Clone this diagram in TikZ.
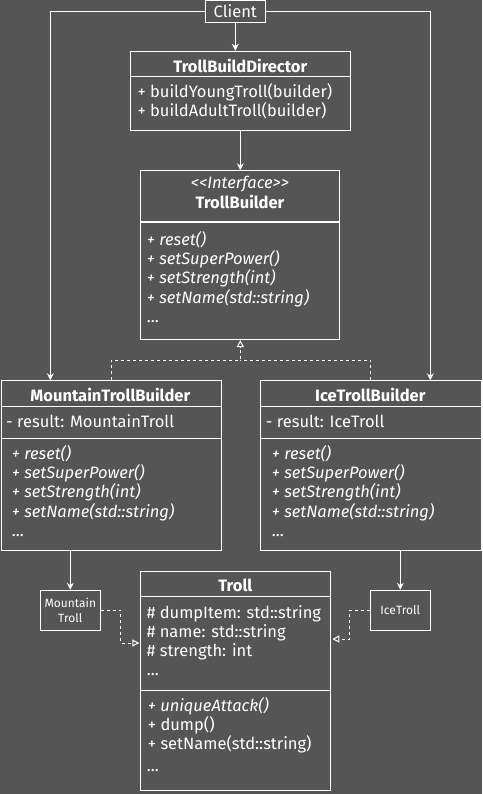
\documentclass[tikz,border=0pt]{standalone}
\usepackage{fontspec}
\setmainfont{Fira Sans}
\usetikzlibrary{arrows.meta}

\definecolor{bgcol}{HTML}{555555}

\tikzset{
  umlbox/.style={draw=white, line width=1pt, inner sep=0pt, anchor=north west},
  smallbox/.style={draw=white, line width=1pt, text=white, align=center, inner sep=0pt,
    minimum width=60pt, minimum height=40pt, font=\fontsize{12}{15}\selectfont},
  divider/.style={white, line width=1pt},
  classname/.style={anchor=base, inner sep=0pt, text=white, font=\fontsize{16.5}{19}\selectfont\bfseries},
  member/.style={anchor=base west, inner sep=0pt, text=white, font=\fontsize{16.5}{19}\selectfont},
  abstract/.style={member, font=\fontsize{16.5}{19}\selectfont\itshape},
  arr/.style={white, line width=1pt, -{Stealth[length=7pt,width=7pt]}},
  real/.style={white, line width=1pt, dash pattern=on 3pt off 3pt, -{Triangle[open,length=7pt,width=7pt,fill=bgcol]}},
  link/.style={white, line width=1pt, dash pattern=on 3pt off 3pt}
}

\begin{document}
\begin{tikzpicture}[x=1pt, y=-1pt]

\useasboundingbox (0,0) rectangle (482,794);
\fill[bgcol] (0,0) rectangle (482,794);

\node[draw=white, line width=1pt, inner sep=0pt, minimum width=60pt, minimum height=21.7pt,
  text=white, font=\fontsize{16.5}{19}\selectfont] (client) at (235.3,11.5) {Client};

% director
\node[umlbox, minimum width=220pt, minimum height=79.3pt] (director) at (130.3,50.7) {};
\node[classname] (directorname) at (240.3,72.3) {TrollBuildDirector};
\draw[divider] (director.west |- 0,76.3) -- (director.east |- 0,76.3);
\node[member] (directorm0) at (137.3,98) {+ buildYoungTroll(builder)};
\node[member] (directorm1) at (137.3,117) {+ buildAdultTroll(builder)};

% builder interface
\node[umlbox, minimum width=199pt, minimum height=168.7pt] (tb) at (140.3,170.3) {};
\node[anchor=base, inner sep=0pt, text=white, font=\fontsize{16.5}{19}\selectfont\itshape] (tbstereo) at (240,189) {<{}<Interface>{}>};
\node[classname] (tbname) at (240,208.7) {TrollBuilder};
\draw[divider, line width=2pt] (tb.west |- 0,221.7) -- (tb.east |- 0,221.7);
\foreach \m [count=\i from 0] in {+ reset(), + setSuperPower(), + setStrength(int), + setName(std::string)}
  \node[abstract] (tbm\i) at (146.7,245+19.4*\i) {\m};
\node[member] (tbdots) at (146.7,322.5) {...};

% concrete builders
\node[umlbox, minimum width=220.3pt, minimum height=170pt] (mtb) at (0.5,380.3) {};
\node[classname] (mtbname) at (110.3,401.7) {MountainTrollBuilder};
\draw[divider] (mtb.west |- 0,406) -- (mtb.east |- 0,406);
\node[member] (mtba0) at (6,427.3) {- result: MountainTroll};
\draw[divider] (mtb.west |- 0,438.3) -- (mtb.east |- 0,438.3);
\foreach \m [count=\i from 0] in {+ reset(), + setSuperPower(), + setStrength(int), + setName(std::string)}
  \node[abstract] (mtbm\i) at (11.7,459.3+19.3*\i) {\m};
\node[member] (mtbdots) at (11.7,536.7) {...};

\node[umlbox, minimum width=220.7pt, minimum height=170pt] (itb) at (260,380.3) {};
\node[classname] (itbname) at (370.3,401.7) {IceTrollBuilder};
\draw[divider] (itb.west |- 0,406) -- (itb.east |- 0,406);
\node[member] (itba0) at (265.7,427.3) {- result: IceTroll};
\draw[divider] (itb.west |- 0,438.3) -- (itb.east |- 0,438.3);
\foreach \m [count=\i from 0] in {+ reset(), + setSuperPower(), + setStrength(int), + setName(std::string)}
  \node[abstract] (itbm\i) at (271.7,459.3+19.3*\i) {\m};
\node[member] (itbdots) at (271.7,536.7) {...};

% products
\node[smallbox] (mt) at (70.3,610.3) {Mountain\\Troll};
\node[smallbox] (it) at (400.3,610.3) {IceTroll};

\node[umlbox, minimum width=190pt, minimum height=219.3pt] (troll) at (140.3,570.7) {};
\node[classname] (trollname) at (235.3,591.7) {Troll};
\draw[divider] (troll.west |- 0,596.3) -- (troll.east |- 0,596.3);
\foreach \m [count=\i from 0] in {\# dumpItem: std::string, \# name: std::string, \# strength: int}
  \node[member] (trolla\i) at (146.7,618.3+18.9*\i) {\m};
\node[member] (trolladots) at (146.7,675.7) {...};
\draw[divider] (troll.west |- 0,690.3) -- (troll.east |- 0,690.3);
\node[abstract] (trollm0) at (147.7,711.7) {+ uniqueAttack()};
\node[member] (trollm1) at (147.7,730.7) {+ dump()};
\node[member] (trollm2) at (147.7,749.5) {+ setName(std::string)};
\node[member] (trollmdots) at (146.7,771.7) {...};

% connectors
\draw[arr] (client.south) -- (director.north -| client.south);
\draw[arr] (director.south -| 240.3,0) -- (tb.north -| 240.3,0);
\draw[arr] (client.west) -| (mtb.north -| 50.3,0);
\draw[arr] (client.east) -| (itb.north -| 430.3,0);

\coordinate (join) at (240.3,360);
\draw[real] (mtb.north) |- (join) -- (tb.south);
\draw[link] (itb.north) |- (join);

\draw[arr] (mtb.south -| mt.north) -- (mt.north);
\draw[arr] (itb.south -| it.north) -- (it.north);

\draw[real, shorten >=1pt] (mt.east) -- ++(20,0) |- (troll.west |- 0,643);
\draw[real, shorten >=1pt] (it.west) -- ++(-20,0) |- (troll.east |- 0,639);

\end{tikzpicture}
\end{document}
